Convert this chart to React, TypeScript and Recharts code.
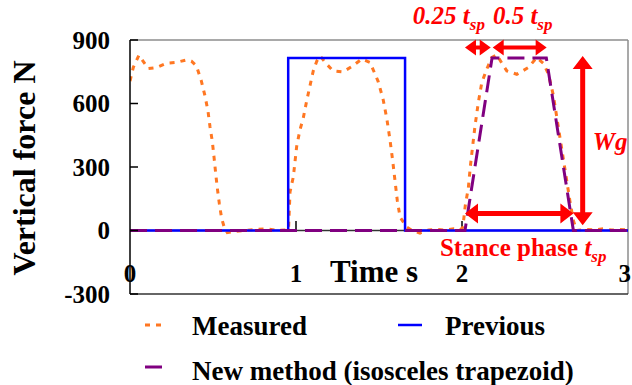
import React from 'react';
import { LineChart, Line, XAxis, YAxis, ReferenceLine, Legend } from 'recharts';

const FONT = '"Liberation Serif", "Times New Roman", Times, serif';

// ---------- data ----------
const measuredTime = [
  0.0, 0.02, 0.054, 0.11, 0.16, 0.22, 0.277, 0.34, 0.37, 0.4, 0.43, 0.452, 0.47, 0.482, 0.496, 0.506,
  0.516, 0.526, 0.538, 0.552, 0.568, 0.586, 0.62, 0.69, 0.76, 0.82, 0.89, 0.94, 0.955, 0.964, 0.984,
  1.004, 1.024, 1.044, 1.064, 1.084, 1.104, 1.125, 1.145, 1.18, 1.223, 1.283, 1.343, 1.396, 1.446,
  1.494, 1.525, 1.548, 1.566, 1.582, 1.596, 1.61, 1.627, 1.667, 1.7, 1.747, 1.8, 1.85, 1.9, 1.95,
  1.99, 2.005, 2.02, 2.038, 2.05, 2.06, 2.078, 2.098, 2.119, 2.149, 2.179, 2.21, 2.24, 2.27, 2.33,
  2.4, 2.45, 2.49, 2.52, 2.55, 2.57, 2.59, 2.61, 2.63, 2.65, 2.67, 2.69, 2.75, 2.8, 2.85, 2.9, 2.95, 3.0,
];
const measuredForce = [
  706, 771, 828, 765, 770, 790, 794, 806, 800, 778, 706, 635, 563, 490, 420, 348,
  271, 200, 128, 57, 15, -10, -5, 0, 5, 8, 0, 3, 5, 182, 254,
  397, 476, 532, 611, 683, 754, 800, 825, 790, 754, 749, 778, 810, 794,
  706, 619, 524, 429, 333, 238, 143, 63, 16, 0, -12, 3, 5, 2, 8,
  3, 15, 120, 200, 300, 370, 492, 603, 698, 762, 817, 830, 790, 754, 738,
  770, 817, 790, 740, 640, 540, 440, 340, 240, 140, 50, 0, 5, 3, 8, 2, 5, 3,
];

const previousTime = [0, 0.953, 0.953, 1.657, 1.657, 3];
const previousForce = [0, 0, 815, 815, 0, 0];

const newTime = [0, 2.018, 2.181, 2.508, 2.671, 3];
const newForce = [0, 0, 815, 815, 0, 0];

const xTicks = [0, 1, 2, 3];
const yTicks = [-300, 0, 300, 600, 900];
const seriesNames = ['Measured', 'Previous', 'New method (isosceles trapezoid)'];
const xAxisTitle = 'Time s';
const yAxisTitle = 'Vertical force N';

// annotation arrows, in data units
const arrowX1 = [2.018, 2.185, 2.727, 2.018];
const arrowY1 = [865, 865, 25, 80];
const arrowX2 = [2.173, 2.51, 2.727, 2.671];
const arrowY2 = [865, 865, 825, 80];

// ---------- styles ----------
const seriesColors = ['#FF7722', '#0000FF', '#800080'];
const seriesDash = ['5 6', undefined, '17 8'];
const seriesWidth = [3, 2.5, 3];
const legendIconLen = [18, 24, 17];
const RED = '#FF0000';
const CHART_W = 632;

const toRows = (ts: number[], fs: number[]) => ts.map((t, i) => ({ t, f: fs[i] }));
const measuredData = toRows(measuredTime, measuredForce);
const previousData = toRows(previousTime, previousForce);
const newData = toRows(newTime, newForce);

function arrowPoints(x1: number, y1: number, x2: number, y2: number, L: number, W: number, s: number) {
  const dx = x2 - x1;
  const dy = y2 - y1;
  const len = Math.sqrt(dx * dx + dy * dy) || 1;
  const ux = dx / len;
  const uy = dy / len;
  const nx = -uy;
  const ny = ux;
  const b1x = x1 + ux * L, b1y = y1 + uy * L;
  const b2x = x2 - ux * L, b2y = y2 - uy * L;
  const pts = [
    [x1, y1],
    [b1x + nx * W, b1y + ny * W],
    [b1x + nx * s, b1y + ny * s],
    [b2x + nx * s, b2y + ny * s],
    [b2x + nx * W, b2y + ny * W],
    [x2, y2],
    [b2x - nx * W, b2y - ny * W],
    [b2x - nx * s, b2y - ny * s],
    [b1x - nx * s, b1y - ny * s],
    [b1x - nx * W, b1y - ny * W],
  ];
  return pts.map((p) => `${p[0]},${p[1]}`).join(' ');
}

const labelStyle = { fontFamily: FONT, fontWeight: 'bold' as const, fill: RED };

function renderArrowLabel(kind: number, x1: number, y1: number, x2: number, y2: number) {
  const mx = (x1 + x2) / 2;
  const my = (y1 + y2) / 2;
  if (kind === 0) {
    return (
      <text x={mx - 29} y={y1 - 23} textAnchor="middle" fontSize={25} fontStyle="italic" {...labelStyle}>
        0.25 <tspan>t</tspan>
        <tspan fontSize={17} dy={6}>sp</tspan>
      </text>
    );
  }
  if (kind === 1) {
    return (
      <text x={mx + 3} y={y1 - 23} textAnchor="middle" fontSize={25} fontStyle="italic" {...labelStyle}>
        0.5 <tspan>t</tspan>
        <tspan fontSize={17} dy={6}>sp</tspan>
      </text>
    );
  }
  if (kind === 2) {
    return (
      <text x={x1 + 10} y={my + 9} textAnchor="start" fontSize={25} fontStyle="italic" {...labelStyle}>
        Wg
      </text>
    );
  }
  return (
    <text x={mx + 4} y={y1 + 42} textAnchor="middle" fontSize={25} {...labelStyle}>
      Stance phase <tspan fontStyle="italic">t</tspan>
      <tspan fontStyle="italic" fontSize={17} dy={6}>sp</tspan>
    </text>
  );
}

const makeArrowShape = (kind: number) => (props: any) => {
  const { x1, y1, x2, y2 } = props;
  if ([x1, y1, x2, y2].some((v) => typeof v !== 'number' || isNaN(v))) return <g />;
  const small = kind < 2;
  const L = small ? 11 : 13;
  const W = small ? 8 : 10;
  const s = small ? 2 : 2.5;
  return (
    <g>
      <polygon points={arrowPoints(x1, y1, x2, y2, L, W, s)} fill={RED} stroke="none" />
      {renderArrowLabel(kind, x1, y1, x2, y2)}
    </g>
  );
};

const XTick = (props: any) => {
  const { x, y, payload } = props;
  const nearEdge = x + 8 > CHART_W;
  return (
    <text
      x={nearEdge ? CHART_W - 1 : x}
      y={y - 12}
      textAnchor={nearEdge ? 'end' : 'middle'}
      fontFamily={FONT}
      fontWeight="bold"
      fontSize={25}
      fill="#000"
    >
      {payload.value}
    </text>
  );
};

const renderXLabel = (props: any) => {
  const vb = props.viewBox || {};
  return (
    <text
      x={vb.x + vb.width / 2 - 5}
      y={vb.y - 12}
      textAnchor="middle"
      fontFamily={FONT}
      fontWeight="bold"
      fontSize={31}
      fill="#000"
    >
      {xAxisTitle}
    </text>
  );
};

const renderYLabel = (props: any) => {
  const vb = props.viewBox || {};
  const cx = vb.x + 25;
  const cy = vb.y + vb.height / 2 + 1;
  return (
    <text
      x={cx}
      y={cy}
      transform={`rotate(-90, ${cx}, ${cy})`}
      textAnchor="middle"
      fontFamily={FONT}
      fontWeight="bold"
      fontSize={32}
      fill="#000"
    >
      {yAxisTitle}
    </text>
  );
};

const legendCols = [145, 398];
const legendRowText = [30, 75];
const legendRowIcon = [20, 62];

const renderLegend = (props: any) => {
  const payload = props.payload || [];
  return (
    <svg width={632} height={80} style={{ display: 'block', overflow: 'visible' }}>
      {payload.map((entry: any, i: number) => {
        const found = seriesNames.indexOf(entry.value);
        const idx = found >= 0 ? found : i;
        const col = idx % 2;
        const row = Math.floor(idx / 2);
        const x0 = legendCols[col];
        return (
          <g key={idx}>
            <line
              x1={x0}
              x2={x0 + legendIconLen[idx]}
              y1={legendRowIcon[row]}
              y2={legendRowIcon[row]}
              stroke={seriesColors[idx]}
              strokeWidth={seriesWidth[idx]}
              strokeDasharray={seriesDash[idx]}
            />
            <text
              x={x0 + 47}
              y={legendRowText[row]}
              fontFamily={FONT}
              fontWeight="bold"
              fontSize={27}
              fill="#000"
            >
              {entry.value}
            </text>
          </g>
        );
      })}
    </svg>
  );
};

export default function App() {
  return (
    <div style={{ position: 'absolute', left: 0, top: 0, width: 632, height: 385, background: '#fff' }}>
      <LineChart width={CHART_W} height={385} margin={{ top: 40, right: 4, bottom: 61, left: 10 }}>
        <XAxis
          type="number"
          dataKey="t"
          domain={[0, 3]}
          ticks={xTicks}
          interval={0}
          allowDataOverflow
          tickLine={false}
          tickSize={0}
          tickMargin={0}
          height={30}
          axisLine={{ stroke: '#333', strokeWidth: 1.5 }}
          tick={<XTick />}
          label={{ content: renderXLabel }}
        />
        <YAxis
          type="number"
          domain={[-300, 900]}
          ticks={yTicks}
          interval={0}
          allowDataOverflow
          width={120}
          tickSize={-8}
          tickMargin={28}
          tickLine={{ stroke: '#000', strokeWidth: 1.5 }}
          axisLine={{ stroke: '#000', strokeWidth: 1.5 }}
          tick={{ fill: '#000', fontSize: 25, fontWeight: 'bold', fontFamily: FONT }}
          label={{ content: renderYLabel }}
        />
        <ReferenceLine y={900} stroke="#8c8c8c" strokeWidth={1.5} />
        <ReferenceLine x={3} stroke="#8c8c8c" strokeWidth={1.5} />
        <ReferenceLine y={0} stroke="#333" strokeWidth={1.5} />
        {xTicks
          .filter((t) => t > 0 && t < 3)
          .map((t) => (
            <ReferenceLine
              key={`xt${t}`}
              segment={[
                { x: t, y: 0 },
                { x: t, y: 45 },
              ]}
              stroke="#000"
              strokeWidth={1.5}
            />
          ))}
        <Line
          data={measuredData}
          dataKey="f"
          name={seriesNames[0]}
          type="linear"
          stroke={seriesColors[0]}
          strokeWidth={seriesWidth[0]}
          strokeDasharray={seriesDash[0]}
          dot={false}
          activeDot={false}
          isAnimationActive={false}
        />
        <Line
          data={previousData}
          dataKey="f"
          name={seriesNames[1]}
          type="linear"
          stroke={seriesColors[1]}
          strokeWidth={seriesWidth[1]}
          dot={false}
          activeDot={false}
          isAnimationActive={false}
        />
        <Line
          data={newData}
          dataKey="f"
          name={seriesNames[2]}
          type="linear"
          stroke={seriesColors[2]}
          strokeWidth={seriesWidth[2]}
          strokeDasharray={seriesDash[2]}
          dot={false}
          activeDot={false}
          isAnimationActive={false}
        />
        {arrowX1.map((x, i) => (
          <ReferenceLine
            key={`arrow${i}`}
            segment={[
              { x, y: arrowY1[i] },
              { x: arrowX2[i], y: arrowY2[i] },
            ]}
            shape={makeArrowShape(i)}
          />
        ))}
        <Legend
          content={renderLegend}
          layout="horizontal"
          verticalAlign="middle"
          align="center"
          wrapperStyle={{ left: 0, top: 305, width: 632, height: 80 }}
        />
      </LineChart>
    </div>
  );
}
